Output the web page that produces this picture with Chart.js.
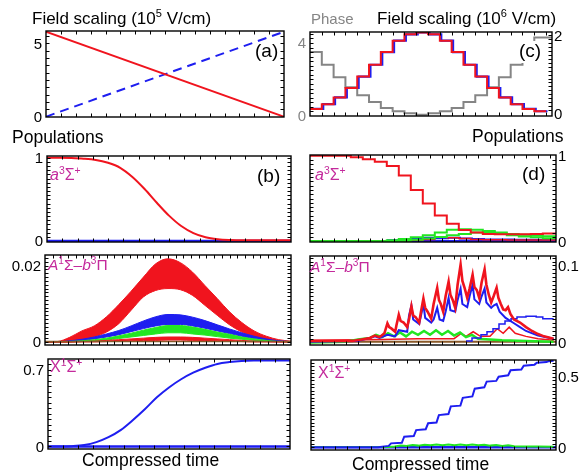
<!DOCTYPE html>
<html>
<head>
<meta charset="utf-8">
<script src="https://cdn.jsdelivr.net/npm/chart.js@4.4.1/dist/chart.umd.min.js"></script>
<style>
  html, body { margin: 0; padding: 0; background: #fff; }
  #wrap { position: relative; width: 587px; height: 472px; overflow: hidden; font-family: "Liberation Sans", Arial, sans-serif; }
  #wrap canvas { position: absolute; left: 0; top: 0; }
  .t { position: absolute; white-space: nowrap; line-height: 1; }
  .t sup { font-size: 0.65em; vertical-align: 0.6em; line-height: 0; }
</style>
</head>
<body>
<div id="wrap"></div>
<script>
// ---- data -------------------------------------------------------------

// (a) linear field ramps, 10^5 V/cm
const timeA = [0, 1];
const redFieldA = [5.8, 0];
const blueFieldA = [0, 5.8];
const yTicksA = [0, 5];

// (c) one value per field step (20 steps), field in 10^6 V/cm, phase in rad
const fieldStepsC = [0.13, 0.25, 0.42, 0.66, 0.95, 1.25, 1.57, 1.86, 2.02, 2.07, 2.02, 1.86, 1.57, 1.25, 0.95, 0.66, 0.42, 0.25, 0.13, 0.07];
const phaseStepsC = [3.5, 2.81, 2.12, 1.57, 1.13, 0.77, 0.44, 0.26, 0.15, 0.07, 0.15, 0.26, 0.44, 0.77, 1.13, 1.57, 2.12, 2.81, 3.5, 4.3];
const blueLagC = 0.12;
const phaseTicksC = [0, 4];
const fieldTicksC = [0, 2];

// left column populations, compressed time 0..1
const timeB = [0, 0.05, 0.1, 0.15, 0.2, 0.25, 0.3, 0.35, 0.4, 0.45, 0.5, 0.55, 0.6, 0.65, 0.7, 0.75, 0.8, 0.85, 0.9, 0.95, 1];
const redB = [1.0, 1.0, 0.997, 0.99, 0.975, 0.94, 0.88, 0.77, 0.625, 0.46, 0.305, 0.18, 0.095, 0.045, 0.022, 0.013, 0.01, 0.01, 0.01, 0.01, 0.01];
const yTicksB = [0, 1];

const redUpperE = [0, 0.0001, 0.0012, 0.0029, 0.0042, 0.0066, 0.0098, 0.0133, 0.017, 0.0205, 0.0218, 0.0208, 0.0183, 0.0148, 0.0114, 0.0079, 0.0051, 0.0029, 0.0015, 0.0006, 0.0002];
const redLowerE = [0, 0, 0, 0.0005, 0.0013, 0.0026, 0.0048, 0.0083, 0.0118, 0.0135, 0.014, 0.0137, 0.0122, 0.0096, 0.007, 0.0045, 0.0026, 0.0013, 0.0006, 0.0002, 0.0001];
const blueUpperE = [0, 0, 0.0003, 0.0007, 0.0013, 0.0021, 0.003, 0.0042, 0.0055, 0.0066, 0.0072, 0.0071, 0.0065, 0.0056, 0.0045, 0.0034, 0.0024, 0.0015, 0.0008, 0.0003, 0.0001];
const blueLowerE = [0, 0, 0.0002, 0.0004, 0.0008, 0.0013, 0.0019, 0.0027, 0.0035, 0.0042, 0.0046, 0.0046, 0.0042, 0.0036, 0.0029, 0.0022, 0.0015, 0.0009, 0.0005, 0.0002, 0.0001];
const greenUpperE = [0, 0, 0.0001, 0.0003, 0.0006, 0.001, 0.0016, 0.0023, 0.0031, 0.0038, 0.0043, 0.0043, 0.0039, 0.0033, 0.0026, 0.002, 0.0013, 0.0008, 0.0004, 0.0001, 0];
const greenLowerE = [0, 0, 0, 0.0001, 0.0003, 0.0005, 0.0009, 0.0013, 0.0017, 0.0021, 0.0024, 0.0024, 0.0021, 0.0018, 0.0014, 0.001, 0.0007, 0.0004, 0.0002, 0.0001, 0];
const smallRedUpperE = [0, 0, 0, 0.0001, 0.0002, 0.0004, 0.0006, 0.0008, 0.001, 0.0012, 0.0013, 0.0013, 0.0012, 0.001, 0.0008, 0.0006, 0.0004, 0.0002, 0.0001, 0, 0];
const smallRedLowerE = [0, 0, 0, 0, 0, 0.0001, 0.0002, 0.0003, 0.0004, 0.0004, 0.0005, 0.0005, 0.0004, 0.0004, 0.0003, 0.0002, 0.0001, 0, 0, 0, 0];
const brownE = [0.0001, 0.0001];
const yTicksE = [0, 0.02];

const blueG = [0, 0, 0.003, 0.013, 0.04, 0.085, 0.15, 0.24, 0.34, 0.45, 0.54, 0.615, 0.675, 0.72, 0.755, 0.772, 0.782, 0.786, 0.787, 0.787, 0.787];
const yTicksG = [0, 0.7];

// right column populations, time in field steps (0..20.5)
const tRedD = [0, 3.4, 4.4, 5.4, 6.4, 7.4, 8.4, 9.4, 10.4, 11.4, 12.4, 13.4, 14.4, 15.4, 16.4, 17.4, 18.4, 19.4, 20.5];
const redD = [1.0, 0.985, 0.96, 0.93, 0.88, 0.77, 0.6, 0.44, 0.3, 0.205, 0.13, 0.1, 0.085, 0.08, 0.08, 0.082, 0.085, 0.09, 0.09];
const tGreenD = [0, 6.4, 7.4, 8.4, 9.4, 10.4, 11.4, 12.4, 13.4, 14.4, 15.4, 16.4, 17.4, 18.4, 19.4, 20.5];
const greenAD = [0, 0.01, 0.025, 0.045, 0.07, 0.1, 0.135, 0.14, 0.135, 0.12, 0.1, 0.085, 0.075, 0.065, 0.058, 0.055];
const greenBD = [0, 0, 0.005, 0.015, 0.03, 0.05, 0.07, 0.085, 0.1, 0.1, 0.09, 0.07, 0.055, 0.045, 0.035, 0.03];
const tBlueD = [0, 5.5, 6.5, 7.5, 8.5, 9.5, 10.5, 11.5, 12.5, 13.5, 14.5, 15.5, 17, 20.5];
const blueD = [0.002, 0.003, 0.01, 0.02, 0.03, 0.04, 0.035, 0.04, 0.03, 0.025, 0.02, 0.018, 0.015, 0.012];
const tRed2D = [0, 7.4, 8.4, 9.4, 10.4, 11.4, 12.4, 13.4, 14.4, 16.4, 20.5];
const red2D = [0.003, 0.005, 0.01, 0.02, 0.045, 0.04, 0.03, 0.02, 0.015, 0.012, 0.01];
const yTicksD = [0, 1];

const tRedF = [0, 3.5, 4.3, 5.0, 5.4, 5.8, 6.2, 6.45, 6.6, 6.8, 7.1, 7.2, 7.4, 7.55, 7.8, 8.1, 8.25, 8.45, 8.6, 8.8, 9.1, 9.25, 9.45, 9.6, 9.8, 10.1, 10.3, 10.6, 10.75, 10.9, 11.1, 11.3, 11.55, 11.7, 11.9, 12.1, 12.3, 12.55, 12.7, 12.9, 13.1, 13.3, 13.55, 13.7, 13.9, 14.1, 14.3, 14.55, 14.7, 14.9, 15.1, 15.3, 15.55, 15.7, 15.9, 16.1, 16.3, 16.5, 16.7, 17.0, 17.5, 18, 18.5, 19, 19.5, 20.3];
const redF = [0.002, 0.002, 0.004, 0.006, 0.009, 0.007, 0.012, 0.025, 0.02, 0.018, 0.014, 0.022, 0.036, 0.028, 0.026, 0.02, 0.03, 0.047, 0.035, 0.033, 0.026, 0.04, 0.057, 0.045, 0.04, 0.031, 0.05, 0.071, 0.055, 0.05, 0.04, 0.06, 0.079, 0.062, 0.055, 0.045, 0.075, 0.101, 0.08, 0.07, 0.058, 0.07, 0.088, 0.072, 0.068, 0.058, 0.078, 0.095, 0.075, 0.062, 0.052, 0.06, 0.071, 0.058, 0.05, 0.043, 0.042, 0.046, 0.037, 0.03, 0.026, 0.02, 0.015, 0.011, 0.008, 0.005];
const tBlueF = [0, 4, 5, 5.4, 5.8, 6.45, 7.1, 7.4, 8.1, 8.25, 8.45, 8.6, 9.1, 9.25, 9.45, 9.6, 10.1, 10.3, 10.6, 10.8, 11.1, 11.3, 11.55, 11.7, 12.1, 12.3, 12.55, 12.7, 13.1, 13.3, 13.55, 13.7, 14.1, 14.3, 14.55, 14.7, 15.1, 15.3, 15.55, 15.8, 16.3, 17, 17.5, 18, 19, 20.3];
const blueF = [0.001, 0.002, 0.006, 0.008, 0.006, 0.01, 0.008, 0.016, 0.014, 0.035, 0.048, 0.03, 0.024, 0.035, 0.05, 0.032, 0.026, 0.03, 0.045, 0.03, 0.028, 0.04, 0.058, 0.042, 0.04, 0.055, 0.07, 0.05, 0.046, 0.06, 0.075, 0.056, 0.05, 0.06, 0.07, 0.052, 0.045, 0.048, 0.05, 0.04, 0.032, 0.025, 0.02, 0.015, 0.009, 0.005];
const tBlue2F = [13, 14, 14.5, 15, 15.5, 16, 16.5, 17, 17.5, 18.5, 19.2, 19.6, 20.3];
const blue2F = [0.002, 0.006, 0.01, 0.014, 0.018, 0.024, 0.028, 0.031, 0.033, 0.034, 0.033, 0.031, 0.031];
const tGreenF = [0, 3, 4, 5, 5.5, 6, 6.5, 7, 7.5, 8, 8.5, 9, 9.5, 10, 10.5, 11, 11.5, 12, 12.5, 13, 13.5, 14, 15, 16, 18, 20.3];
const greenF = [0, 0.001, 0.004, 0.006, 0.01, 0.007, 0.012, 0.008, 0.013, 0.008, 0.014, 0.01, 0.015, 0.01, 0.016, 0.01, 0.015, 0.009, 0.013, 0.007, 0.01, 0.005, 0.004, 0.003, 0.002, 0.001];
const tRed2F = [0, 6, 9, 12, 12.6, 13, 13.6, 14.2, 15, 15.6, 16.1, 16.6, 17.1, 18, 19, 20.3];
const red2F = [0.003, 0.004, 0.005, 0.005, 0.012, 0.008, 0.014, 0.008, 0.008, 0.018, 0.012, 0.02, 0.012, 0.008, 0.005, 0.003];
const brownF = [0.001, 0.001];
const yTicksF = [0, 0.1];

const tBlueH = [0, 5.6, 6.5, 6.7, 7.6, 7.8, 8.6, 8.8, 9.6, 9.8, 10.5, 10.7, 11.5, 11.7, 12.5, 12.7, 13.5, 13.7, 14.5, 14.7, 15.5, 15.7, 16.5, 16.7, 17.6, 17.8, 18.7, 18.9, 19.7, 19.9, 20.3];
const blueH = [0, 0, 0.01, 0.028, 0.032, 0.075, 0.08, 0.122, 0.128, 0.17, 0.175, 0.228, 0.235, 0.29, 0.295, 0.35, 0.36, 0.415, 0.425, 0.465, 0.47, 0.5, 0.51, 0.545, 0.55, 0.578, 0.585, 0.598, 0.603, 0.61, 0.612];
const tGreenH = [0, 6.5, 7, 7.5, 8, 8.5, 9, 9.5, 10, 10.5, 11, 11.5, 12, 12.5, 13, 13.5, 14, 14.5, 15, 15.5, 16, 16.5, 17, 18, 19, 20.3];
const greenH = [0.002, 0.002, 0.005, 0.012, 0.01, 0.016, 0.012, 0.018, 0.014, 0.02, 0.015, 0.02, 0.015, 0.02, 0.015, 0.02, 0.014, 0.018, 0.012, 0.016, 0.01, 0.014, 0.008, 0.006, 0.005, 0.004];
const yTicksH = [0, 0.5];

const timeR = [0, 20.5];
const zeroLine = [0, 0];

// ---- drawing ----------------------------------------------------------

const W = 587, H = 472;
const wrap = document.getElementById('wrap');
const RED = '#f0141e', BLUE = '#1e1ef0', GREEN = '#22e622', GRAY = '#858585', MAG = '#c42a9c', BROWN = '#8a5a2a';
const FONT = '"Liberation Sans", Arial, sans-serif';

const pts = (xs, ys) => xs.map((x, i) => ({ x, y: ys[i] }));
const stepPts = (vals, lag, end) => [...vals.map((v, i) => ({ x: i === 0 ? 0 : i + lag, y: v })), { x: end, y: vals[vals.length - 1] }];
const line = (data, color, width, extra) => Object.assign({ data, borderColor: color, backgroundColor: color, borderWidth: width, pointRadius: 0, fill: false }, extra || {});
const smooth = { cubicInterpolationMode: 'monotone' };

const framePlugin = {
  id: 'frame',
  afterDraw(chart, args, o) {
    const { ctx, chartArea: a, scales } = chart;
    ctx.save();
    ctx.strokeStyle = '#000';
    ctx.lineWidth = 1;
    ctx.beginPath();
    const xs = scales.x;
    for (let v = o.xStep; v < xs.max - 1e-9; v += o.xStep) {
      const px = Math.round(xs.getPixelForValue(v)) + 0.5;
      ctx.moveTo(px, a.bottom); ctx.lineTo(px, a.bottom - 3.5);
      ctx.moveTo(px, a.top); ctx.lineTo(px, a.top + 3.5);
    }
    [[o.leftAxis || 'y', o.leftStep, a.left, 1], [o.rightAxis || 'y', o.rightStep, a.right, -1]].forEach(([id, step, x, dir]) => {
      const s = scales[id];
      for (let v = Math.ceil(s.min / step) * step; v < s.max; v += step) {
        const py = Math.round(s.getPixelForValue(v)) + 0.5;
        if (py < a.top + 2 || py > a.bottom - 2) continue;
        ctx.moveTo(x, py); ctx.lineTo(x + dir * 3.5, py);
      }
    });
    ctx.stroke();
    ctx.lineWidth = 1.4;
    ctx.strokeRect(a.left, a.top, a.right - a.left, a.bottom - a.top);
    ctx.font = '15px ' + FONT;
    (o.labels || []).forEach(l => {
      l.values.forEach(v => {
        const py = scales[l.axis].getPixelForValue(v);
        ctx.fillStyle = l.color || '#000';
        ctx.textAlign = l.side === 'left' ? 'right' : 'left';
        ctx.textBaseline = 'alphabetic';
        ctx.fillText(String(v), l.side === 'left' ? a.left - 4 : a.right + 2, py + 5.4);
      });
    });
    ctx.restore();
  }
};

function makePanel(rect, datasets, scales, frame) {
  const cv = document.createElement('canvas');
  cv.width = W; cv.height = H;
  wrap.appendChild(cv);
  const [x0, y0, x1, y1] = rect;
  const sc = {};
  Object.keys(scales).forEach(k => { sc[k] = Object.assign({ type: 'linear', display: false }, scales[k]); });
  return new Chart(cv, {
    type: 'line',
    data: { datasets },
    options: {
      responsive: false,
      animation: false,
      events: [],
      layout: { padding: { left: x0, top: y0, right: W - x1, bottom: H - y1 } },
      scales: sc,
      elements: { point: { radius: 0 }, line: { tension: 0 } },
      plugins: { legend: { display: false }, tooltip: { enabled: false }, frame },
    },
    plugins: [framePlugin],
  });
}

// panel rectangles [left, top, right, bottom]
const rectA = [46, 31, 284, 117];
const rectC = [310, 32, 552, 116];
const rectB = [47, 156, 291, 242];
const rectD = [310, 155, 556, 242];
const rectE = [45, 255, 291, 345];
const rectF = [310, 256, 556, 345];
const rectG = [48, 359, 290, 449];
const rectH = [311, 360, 556, 450];

// (a)
makePanel(rectA, [
  line(pts(timeA, redFieldA), RED, 2),
  line(pts(timeA, blueFieldA), BLUE, 2, { borderDash: [9, 6] }),
], { x: { min: 0, max: 1 }, y: { min: -0.02, max: 5.85 } },
{ xStep: 1 / 16, leftStep: 0.5, rightStep: 0.5, labels: [{ axis: 'y', values: yTicksA, side: 'left' }] });

// (c)
makePanel(rectC, [
  line(stepPts(fieldStepsC, 0, 20), RED, 2, { yAxisID: 'y2', stepped: 'before' }),
  line(stepPts(fieldStepsC, blueLagC, 20 + blueLagC), BLUE, 2.2, { yAxisID: 'y2', stepped: 'before' }),
  line(stepPts(phaseStepsC, 0, 20.5), GRAY, 2, { yAxisID: 'y', stepped: 'before' }),
], { x: { min: 0, max: 20.5 }, y: { min: 0, max: 4.6 }, y2: { min: -0.05, max: 2.08 } },
{ xStep: 1, leftAxis: 'y', leftStep: 0.25, rightAxis: 'y2', rightStep: 0.1,
  labels: [{ axis: 'y', values: phaseTicksC, side: 'left', color: GRAY }, { axis: 'y2', values: fieldTicksC, side: 'right' }] });

// (b)
makePanel(rectB, [
  line(pts(timeB, redB), RED, 2, smooth),
  line(pts(timeA, zeroLine), BLUE, 2.5),
], { x: { min: 0, max: 1 }, y: { min: -0.012, max: 1.022 } },
{ xStep: 1 / 16, leftStep: 0.05, rightStep: 0.05, labels: [{ axis: 'y', values: yTicksB, side: 'left' }] });

// (d)
makePanel(rectD, [
  line(pts(tRedD, redD), RED, 2, { stepped: 'before' }),
  line(pts(tGreenD, greenAD), GREEN, 2, { stepped: 'before' }),
  line(pts(tGreenD, greenBD), GREEN, 2, { stepped: 'before' }),
  line(pts(tRed2D, red2D), RED, 1.5, { stepped: 'before' }),
  line(pts(tBlueD, blueD), BLUE, 2, { stepped: 'before' }),
  line(pts(timeR, zeroLine), BLUE, 2.5),
], { x: { min: 0, max: 20.5 }, y: { min: -0.01, max: 1.01 } },
{ xStep: 1, leftStep: 0.05, rightStep: 0.05, labels: [{ axis: 'y', values: yTicksD, side: 'right' }] });

// (e) oscillating populations drawn as filled bands
const band = (lower, upper, color) => [
  line(pts(timeB, lower), color, 1, smooth),
  line(pts(timeB, upper), color, 1, Object.assign({ fill: '-1' }, smooth)),
];
makePanel(rectE, [
  line(pts(timeA, brownE), BROWN, 1.5),
  ...band(smallRedLowerE, smallRedUpperE, RED),
  ...band(greenLowerE, greenUpperE, GREEN),
  ...band(blueLowerE, blueUpperE, BLUE),
  ...band(redLowerE, redUpperE, RED),
], { x: { min: 0, max: 1 }, y: { min: -0.0008, max: 0.0228 } },
{ xStep: 1 / 32, leftStep: 0.001, rightStep: 0.001, labels: [{ axis: 'y', values: yTicksE, side: 'left' }] });

// (f)
makePanel(rectF, [
  line(pts(tRedF, redF), RED, 2.6),
  line(pts(tBlue2F, blue2F), BLUE, 1.5, { stepped: 'middle' }),
  line(pts(tBlueF, blueF), BLUE, 2),
  line(pts(tGreenF, greenF), GREEN, 2.5),
  line(pts(tRed2F, red2F), RED, 1.5),
  line(pts(timeR, brownF), BROWN, 2),
], { x: { min: 0, max: 20.5 }, y: { min: -0.0032, max: 0.1123 } },
{ xStep: 1, leftStep: 0.005, rightStep: 0.005, labels: [{ axis: 'y', values: yTicksF, side: 'right' }] });

// (g)
makePanel(rectG, [
  line(pts(timeB, blueG), BLUE, 2, smooth),
  line(pts(timeA, zeroLine), BLUE, 2.5),
], { x: { min: 0, max: 1 }, y: { min: -0.023, max: 0.8 } },
{ xStep: 1 / 16, leftStep: 0.05, rightStep: 0.05, labels: [{ axis: 'y', values: yTicksG, side: 'left' }] });

// (h)
makePanel(rectH, [
  line(pts(tBlueH, blueH), BLUE, 2),
  line(pts(tGreenH, greenH), GREEN, 2),
  line(pts(timeR, zeroLine), BLUE, 2.5),
], { x: { min: 0, max: 20.5 }, y: { min: -0.019, max: 0.618 } },
{ xStep: 1, leftStep: 0.025, rightStep: 0.025, labels: [{ axis: 'y', values: yTicksH, side: 'right' }] });

// ---- text -------------------------------------------------------------
const aState = '<i>a</i><sup>3</sup>Σ<sup>+</sup>';
const abState = '<i>A</i><sup>1</sup>Σ–<i>b</i><sup>3</sup>Π';
const xState = 'X<sup>1</sup>Σ<sup>+</sup>';
const texts = [
  ['Field scaling (10<sup>5</sup> V/cm)', 32, 24, 17, '#000'],
  ['Phase', 311, 24, 15, GRAY],
  ['Field scaling (10<sup>6</sup> V/cm)', 377, 24, 17, '#000'],
  ['(a)', 255, 57, 19, '#000'],
  ['(c)', 519, 57, 19, '#000', true],
  ['Populations', 12, 144, 17.5, '#000'],
  ['Populations', 472, 143, 17.5, '#000'],
  ['(b)', 257, 182, 19, '#000'],
  ['(d)', 522, 180, 19, '#000'],
  [aState, 50, 181, 16, MAG],
  [aState, 315, 181, 16, MAG],
  [abState, 48, 270, 15.5, MAG],
  [abState, 310, 272, 15.5, MAG],
  [xState, 50, 373, 16, MAG],
  [xState, 318, 379, 16, MAG],
  ['Compressed time', 82, 467, 17.5, '#000'],
  ['Compressed time', 352, 471, 17.5, '#000'],
];
texts.forEach(([html, x, base, size, color, bg]) => {
  const d = document.createElement('div');
  d.className = 't';
  d.innerHTML = html;
  d.style.left = x + 'px';
  d.style.top = (base - 0.847 * size) + 'px';
  d.style.fontSize = size + 'px';
  d.style.color = color;
  if (bg) { d.style.background = '#fff'; d.style.paddingBottom = '3px'; }
  wrap.appendChild(d);
});
</script>
</body>
</html>
